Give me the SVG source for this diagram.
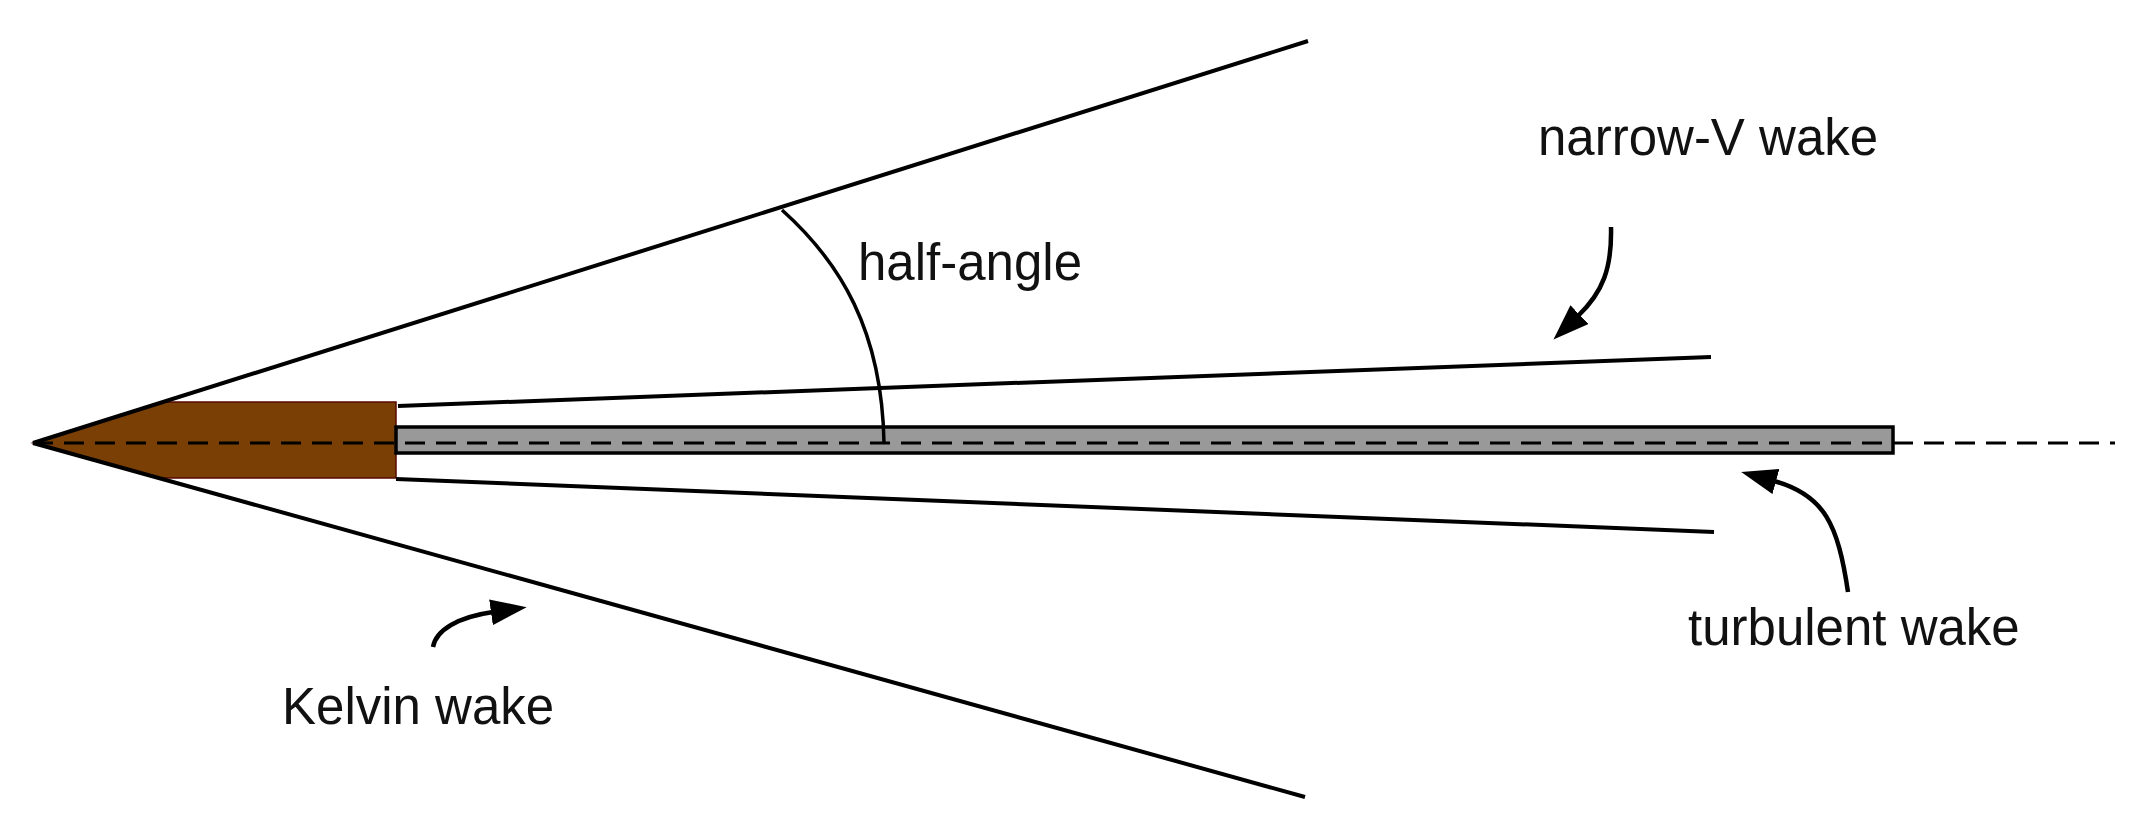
<svg xmlns="http://www.w3.org/2000/svg" width="2151" height="830" viewBox="0 0 2151 830">
<style>
.ln{fill:none;stroke:#000;stroke-width:4;stroke-linecap:butt}
.arr{fill:none;stroke:#000;stroke-width:4.5;marker-end:url(#ah)}
.lbl{font-family:"Liberation Sans",Arial,sans-serif;font-size:51px;fill:#111}
</style>
<defs>
<marker id="ah" markerUnits="userSpaceOnUse" viewBox="0 0 36 26" markerWidth="36" markerHeight="26" refX="2" refY="13" orient="auto">
<path d="M0,0 L36,13 L0,26 z" fill="#000"/>
</marker>
</defs>
<rect width="2151" height="830" fill="#fff"/>
<g id="boat">
<polygon points="33,443 163,402 396,402 396,478 159,478" fill="#7a3f04" stroke="#5a0a00" stroke-width="1.5"/>
</g>
<g id="turbulent-wake-bar">
<rect x="396" y="427" width="1497" height="26" fill="#999" stroke="#000" stroke-width="3.5"/>
</g>
<g id="connectors">
<line class="ln" x1="33" y1="443" x2="1308" y2="41"/>
<line class="ln" x1="33" y1="443" x2="1305" y2="797"/>
<line class="ln" x1="398" y1="406" x2="1711" y2="357"/>
<line class="ln" x1="396" y1="479" x2="1714" y2="532"/>
<line x1="33" y1="443" x2="2115" y2="443" stroke="#000" stroke-width="3" stroke-dasharray="20 11"/>
<path class="ln" style="stroke-width:3.5" d="M782,210 C840,262 882,330 884,443"/>
<path class="arr" d="M1611,227 C1612,268 1603,292 1578,316"/>
<path class="arr" d="M1848,592 C1838,525 1825,495 1774,481"/>
<path class="arr" d="M433,647 C436,630 458,617 493,612"/>
</g>
<g id="label-half-angle"><text class="lbl" x="858" y="280">half-angle</text></g>
<g id="label-narrow-v"><text class="lbl" x="1538" y="155">narrow-V wake</text></g>
<g id="label-turbulent"><text class="lbl" x="1688" y="645">turbulent wake</text></g>
<g id="label-kelvin"><text class="lbl" x="282" y="724">Kelvin wake</text></g>
</svg>
